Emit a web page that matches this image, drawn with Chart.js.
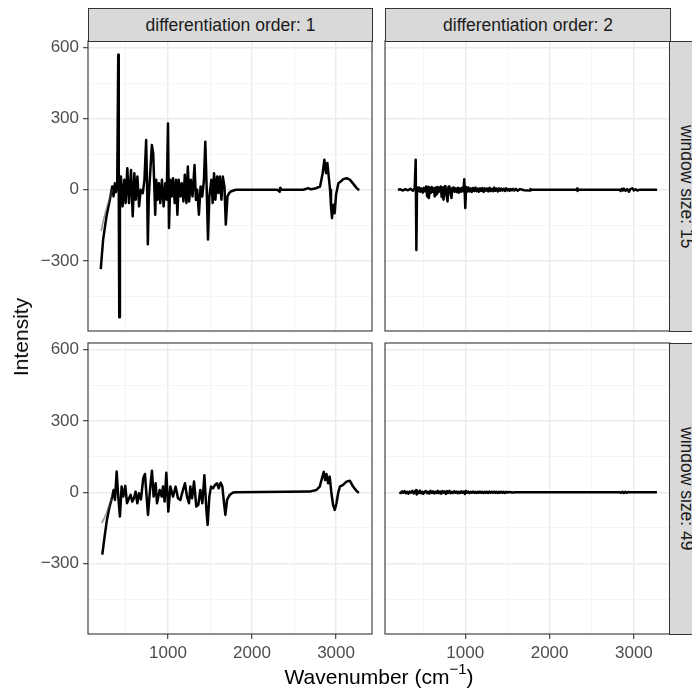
<!DOCTYPE html>
<html>
<head>
<meta charset="utf-8">
<script src="https://cdn.jsdelivr.net/npm/chart.js@4.4.1/dist/chart.umd.min.js"></script>
<style>
  html, body { margin: 0; padding: 0; background: #fff; }
  body { position: relative; width: 692px; height: 694px; overflow: hidden; font-family: "Liberation Sans", Arial, sans-serif; }
  canvas { position: absolute; left: 0; top: 0; }
  .strip { position: absolute; box-sizing: border-box; background: #d9d9d9; border: 1px solid #333; color: #1a1a1a; font-size: 17.5px; display: flex; align-items: center; justify-content: center; white-space: nowrap; }
  .strip.right span { writing-mode: vertical-rl; }
  .ytitle { position: absolute; left: 21px; top: 337px; font-size: 21px; color: #000; transform: translate(-50%, -50%) rotate(-90deg); white-space: nowrap; }
  .xtitle { position: absolute; left: 379px; top: 662px; font-size: 21px; color: #000; transform: translateX(-50%); white-space: nowrap; }
  .xtitle sup { font-size: 15px; position: relative; top: -2px; }
</style>
</head>
<body>
<canvas id="chartTL" width="692" height="694"></canvas>
<canvas id="chartTR" width="692" height="694"></canvas>
<canvas id="chartBL" width="692" height="694"></canvas>
<canvas id="chartBR" width="692" height="694"></canvas>

<div class="strip" style="left:88px; top:8px; width:285px; height:34px;">differentiation order: 1</div>
<div class="strip" style="left:385px; top:8px; width:286px; height:34px;">differentiation order: 2</div>
<div class="strip right" style="left:669px; top:41px; width:34px; height:291px;"><span>window size: 15</span></div>
<div class="strip right" style="left:669px; top:343px; width:34px; height:292px;"><span>window size: 49</span></div>
<div class="ytitle">Intensity</div>
<div class="xtitle">Wavenumber (cm<sup>−1</sup>)</div>

<script>
// window size 15, order 1
const tlWave = [
  200, 228, 268, 308, 336, 352, 368, 380, 396, 408,
  414, 420, 428, 440, 460, 480, 496, 516, 536, 560,
  580, 600, 616, 636, 656, 676, 700, 720, 740, 752,
  760, 772, 788, 808, 824, 836, 848, 860, 876, 892,
  908, 928, 948, 968, 984, 1000, 1012, 1028, 1044, 1060,
  1080, 1096, 1112, 1128, 1148, 1164, 1184, 1200, 1220, 1236,
  1252, 1272, 1292, 1316, 1332, 1348, 1368, 1388, 1408, 1428,
  1444, 1460, 1476, 1492, 1516, 1532, 1548, 1564, 1584, 1600,
  1616, 1636, 1652, 1672, 1688, 1708, 1728, 1748, 1780, 1808,
  2300, 2330, 2335, 2340, 2610, 2671, 2700, 2750, 2810, 2841,
  2861, 2881, 2897, 2913, 2929, 2940, 2952, 2968, 2984, 3000,
  3028, 3056, 3087, 3127, 3167, 3206, 3246, 3275
];
const tlIntensity = [
  -335, -210, -112, -42, 14, -28, 28, -10, 30, 570,
  0, -538, -20, 56, -70, 42, -56, 91, -56, 84,
  -112, 70, -42, 56, -70, 0, -14, 42, 210, 0,
  -230, -28, 70, 189, 154, 28, -105, 42, -42, 28,
  -56, 42, -70, 28, -42, 280, -161, 42, -28, 49,
  -56, 42, -105, 42, -28, 28, -49, 63, -56, 98,
  -49, 42, -28, 105, -42, 0, -105, 14, -28, 42,
  203, 14, -210, -28, 42, -56, 70, -42, 56, -14,
  56, -42, 56, 14, -147, -28, -14, -7, -3, 0,
  0, -8, 8, 0, 0, 7, 2, 5, 14, 70,
  127, 70, 113, 56, 0, -70, -120, -63, -99, -21,
  28, 35, 45, 49, 42, 25, 7, -2
];
const tlGrayWave = [205, 230, 260, 290, 320, 340];
const tlGrayIntensity = [-175, -130, -90, -55, -20, 0];

// window size 15, order 2
const trWave = [
  202, 230, 260, 290, 320, 350, 380, 400, 412, 420,
  428, 440, 452, 466, 480, 496, 510, 524, 536, 548,
  558, 568, 578, 590, 602, 614, 626, 638, 648, 660,
  672, 684, 698, 710, 720, 730, 742, 752, 764, 776,
  790, 800, 812, 824, 836, 848, 862, 874, 888, 900,
  914, 926, 940, 954, 966, 978, 988, 1000, 1010, 1022,
  1036, 1050, 1064, 1078, 1092, 1106, 1120, 1134, 1148, 1162,
  1176, 1190, 1204, 1218, 1232, 1246, 1260, 1274, 1288, 1302,
  1316, 1330, 1344, 1358, 1372, 1386, 1400, 1414, 1428, 1442,
  1456, 1470, 1484, 1498, 1512, 1526, 1540, 1554, 1568, 1582,
  1600, 1620, 1650, 1700, 1768, 1775, 1782, 2320, 2326, 2332,
  2340, 2830, 2842, 2856, 2870, 2882, 2900, 2920, 2941, 2960,
  2981, 3000, 3020, 3041, 3061, 3275
];
const trIntensity = [
  0, 2, -3, 3, -2, 4, -4, 6, 127, -254,
  10, -6, 10, -8, 6, -12, 8, -6, 14, -28,
  12, -35, 8, -14, 12, -8, 6, -28, 10, -20,
  12, -10, 8, 14, -30, 10, -42, 12, 16, -20,
  -49, 12, 14, -12, -35, 8, 10, -8, 6, -10,
  8, -12, 6, -8, 10, -6, 45, -77, 12, -8,
  10, -7, 6, -9, 7, -5, 9, -6, 5, -8,
  6, -5, 7, -9, 6, -4, 5, -7, 8, -5,
  4, -6, 9, -4, 5, -7, 6, -4, 5, -3,
  4, -5, 6, -3, 3, -4, 3, -2, 4, -3,
  4, -4, 3, -2, -3, 3, 0, 0, 5, -5,
  0, 0, -5, 4, -3, 5, -4, 3, -8, 4,
  6, -3, 2, -3, 0, 0
];

// window size 49, order 1
const blWave = [
  218, 246, 273, 305, 337, 353, 369, 389, 408, 428,
  448, 468, 492, 512, 536, 555, 575, 595, 615, 635,
  655, 678, 706, 726, 746, 762, 786, 809, 829, 853,
  869, 901, 925, 940, 960, 980, 1004, 1028, 1060, 1091,
  1119, 1147, 1179, 1202, 1226, 1250, 1266, 1286, 1310, 1337,
  1361, 1385, 1409, 1433, 1457, 1472, 1492, 1512, 1536, 1560,
  1584, 1603, 1627, 1647, 1667, 1683, 1703, 1734, 1774, 1814,
  2687, 2767, 2806, 2838, 2854, 2870, 2886, 2906, 2925, 2945,
  2965, 2985, 3005, 3025, 3045, 3084, 3124, 3164, 3203, 3243,
  3263, 3275
];
const blIntensity = [
  -262, -186, -116, -60, -18, 10, -32, 87, -18, -102,
  24, -18, 27, -46, -25, -11, -39, -25, 3, -46,
  -4, -30, 60, 77, -20, -95, 10, 91, -18, 38,
  -46, 10, -18, 24, -39, 82, -81, 24, -18, 24,
  -25, -32, 10, 38, -18, -46, 24, -25, 45, -60,
  -53, 10, -46, 72, -74, -137, -18, 24, 17, 31,
  38, 17, 40, 24, -46, -95, -32, -11, -1, 0,
  3, 10, 24, 66, 86, 52, 77, 38, 66, -4,
  -53, -74, -46, -4, 24, 31, 45, 49, 24, 6,
  0, 0
];
const blGrayWave = [212, 240, 270, 300, 330];
const blGrayIntensity = [-130, -110, -85, -55, -25];

// window size 49, order 2
const brWave = [
  218, 236, 250, 266, 280, 296, 310, 326, 340, 356,
  372, 388, 404, 416, 424, 436, 450, 462, 476, 490,
  504, 518, 532, 546, 560, 574, 588, 602, 616, 630,
  644, 658, 672, 686, 700, 714, 728, 742, 756, 770,
  784, 798, 812, 826, 840, 854, 868, 882, 896, 910,
  924, 938, 952, 966, 980, 996, 1006, 1020, 1034, 1048,
  1062, 1076, 1090, 1104, 1118, 1132, 1146, 1160, 1174, 1188,
  1202, 1216, 1230, 1244, 1258, 1272, 1286, 1300, 1314, 1328,
  1342, 1356, 1370, 1384, 1398, 1412, 1426, 1440, 1454, 1468,
  1482, 1496, 1520, 1560, 1600, 2830, 2850, 2866, 2880, 2896,
  2912, 2930, 2950, 3273
];
const brIntensity = [
  0, -3, 4, -2, 5, -4, 2, -6, 3, -2,
  6, -5, 3, 9, -9, 4, -3, 7, -4, 2,
  -6, 3, 5, -4, 2, -5, 6, -3, 4, -5,
  2, -3, 6, -4, 3, -6, 5, -2, 4, -7,
  5, -3, 6, -4, 2, -3, 4, -2, 3, -4,
  2, -3, 4, -2, 3, -7, 6, -2, 3, -3,
  2, -2, 3, -2, 2, -3, 2, -2, 3, -2,
  2, -3, 2, -2, 2, -3, 3, -2, 2, -2,
  3, -2, 2, -3, 2, -2, 2, -2, 2, -3,
  2, -1, 1, -1, 0, 0, -2, 2, -3, 2,
  -2, 1, 0, 0
];

const xLimits = [48, 3428];
const yLimits = [-596, 628];
const xBreaks = [500, 1000, 1500, 2000, 2500, 3000];
const xLabelled = [1000, 2000, 3000];
const yBreaks = [-450, -300, -150, 0, 150, 300, 450, 600];
const yLabelled = [-300, 0, 300, 600];

const panels = [
  { id: "chartTL", wave: tlWave, values: tlIntensity, grayWave: tlGrayWave, grayValues: tlGrayIntensity, box: [88, 41, 372, 331], showY: true, showX: false },
  { id: "chartTR", wave: trWave, values: trIntensity, box: [385, 41, 670, 331], showY: false, showX: false },
  { id: "chartBL", wave: blWave, values: blIntensity, grayWave: blGrayWave, grayValues: blGrayIntensity, box: [88, 343, 372, 634], showY: true, showX: true },
  { id: "chartBR", wave: brWave, values: brIntensity, box: [385, 343, 670, 634], showY: false, showX: true }
];

const panelFrame = {
  id: "panelFrame",
  afterDraw(chart) {
    const a = chart.chartArea;
    const ctx = chart.ctx;
    ctx.save();
    ctx.strokeStyle = "#333333";
    ctx.lineWidth = 1.1;
    ctx.strokeRect(a.left, a.top, a.right - a.left, a.bottom - a.top);
    ctx.restore();
  }
};

function toPoints(xs, ys) {
  return xs.map((x, i) => ({ x, y: ys[i] }));
}

function formatTick(value) {
  return String(value).replace("-", "\u2212");
}

function axisOptions(limits, breaks, labelled, show, fitSize, isX) {
  const major = ctx => ctx.tick && labelled.includes(ctx.tick.value);
  return {
    type: "linear",
    min: limits[0],
    max: limits[1],
    border: { display: false },
    afterBuildTicks: s => { s.ticks = breaks.map(value => ({ value })); },
    afterFit: s => { if (isX) s.height = fitSize; else s.width = fitSize; },
    grid: {
      color: ctx => major(ctx) ? "#ebebeb" : "#f2f2f2",
      lineWidth: ctx => major(ctx) ? 1.4 : 0.8,
      drawTicks: show,
      tickLength: 5,
      tickWidth: 1.1,
      tickColor: ctx => major(ctx) ? "#333333" : "rgba(0,0,0,0)"
    },
    ticks: {
      display: show,
      autoSkip: false,
      maxRotation: 0,
      minRotation: 0,
      padding: 4,
      color: "#4d4d4d",
      font: { family: "Liberation Sans", size: 17 },
      callback: v => labelled.includes(v) ? formatTick(v) : ""
    }
  };
}

function buildPanel(p) {
  const [L, T, R, B] = p.box;
  const yAxisWidth = p.showY ? 60 : 0;
  const xAxisHeight = p.showX ? 40 : 0;

  const datasets = [];
  if (p.grayWave) {
    datasets.push({
      data: toPoints(p.grayWave, p.grayValues),
      borderColor: "rgba(80,80,80,0.6)",
      borderWidth: 1.6,
      pointRadius: 0,
      tension: 0
    });
  }
  datasets.push({
    data: toPoints(p.wave, p.values),
    borderColor: "#000000",
    borderWidth: 2.5,
    pointRadius: 0,
    tension: 0,
    borderJoinStyle: "round"
  });

  return new Chart(document.getElementById(p.id), {
    type: "line",
    data: { datasets },
    plugins: [panelFrame],
    options: {
      responsive: false,
      animation: false,
      devicePixelRatio: 1,
      events: [],
      layout: {
        padding: { left: L - yAxisWidth, top: T, right: 692 - R, bottom: 694 - B - xAxisHeight }
      },
      plugins: { legend: { display: false }, tooltip: { enabled: false } },
      scales: {
        x: axisOptions(xLimits, xBreaks, xLabelled, p.showX, xAxisHeight, true),
        y: axisOptions(yLimits, yBreaks, yLabelled, p.showY, yAxisWidth, false)
      }
    }
  });
}

panels.forEach(buildPanel);
</script>
</body>
</html>
